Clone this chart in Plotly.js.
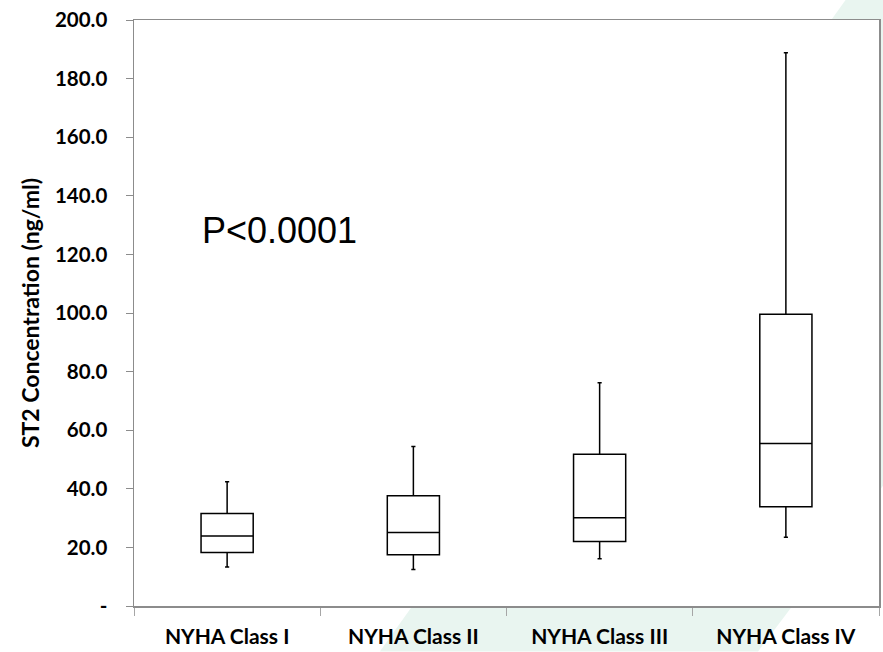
<!DOCTYPE html>
<html>
<head>
<meta charset="utf-8">
<script src="https://cdn.plot.ly/plotly-3.0.1.min.js"></script>
<style>html,body{margin:0;padding:0;background:#fff;}#chart{width:883px;height:652px;}</style>
</head>
<body>
<div id="chart"></div>
<script>
var categories = ["NYHA Class I", "NYHA Class II", "NYHA Class III", "NYHA Class IV"];
var lowerWhisker = [13.3, 12.5, 16.1, 23.5];
var q1Values = [18.3, 17.5, 22.0, 33.9];
var medianValues = [23.9, 25.1, 30.1, 55.5];
var q3Values = [31.6, 37.6, 51.8, 99.6];
var upperWhisker = [42.4, 54.4, 76.2, 188.8];
var yTickVals = [0, 20, 40, 60, 80, 100, 120, 140, 160, 180, 200];
var yTickText = ["-", "20.0", "40.0", "60.0", "80.0", "100.0", "120.0", "140.0", "160.0", "180.0", "200.0"];

var trace = {
  type: "box",
  x: categories,
  q1: q1Values,
  median: medianValues,
  q3: q3Values,
  lowerfence: lowerWhisker,
  upperfence: upperWhisker,
  boxpoints: false,
  fillcolor: "rgba(255,255,255,1)",
  line: {color: "#000000", width: 1.5},
  whiskerwidth: 0.08,
  hoverinfo: "skip",
  showlegend: false
};

var layout = {
  width: 883,
  height: 652,
  margin: {l: 134, r: 4, t: 20, b: 46},
  paper_bgcolor: "#ffffff",
  plot_bgcolor: "rgba(0,0,0,0)",
  boxgap: 0.6,
  font: {family: "Lato, 'Open Sans', sans-serif", color: "#000000"},
  xaxis: {
    type: "category",
    tickson: "boundaries",
    ticks: "outside",
    ticklen: 8,
    tickcolor: "#a6a6a6",
    showline: true,
    linecolor: "#8c8c8c",
    linewidth: 1.5,
    mirror: true,
    showgrid: false,
    zeroline: false,
    tickfont: {family: "Lato, sans-serif", size: 21, color: "#000000", weight: "bold"},
    ticklabelstandoff: 11
  },
  yaxis: {
    range: [0, 200],
    tickvals: yTickVals,
    ticktext: yTickText,
    ticks: "outside",
    ticklen: 7,
    tickcolor: "#8c8c8c",
    showline: true,
    linecolor: "#8c8c8c",
    linewidth: 1.5,
    mirror: true,
    showgrid: false,
    zeroline: false,
    tickfont: {family: "Lato, sans-serif", size: 20.5, color: "#000000", weight: "bold"},
    ticklabelstandoff: 14,
    title: {
      text: "ST2 Concentration (ng/ml)",
      font: {family: "Lato, sans-serif", size: 23, color: "#000000", weight: "bold"},
      standoff: 9
    }
  },
  shapes: [
    {
      type: "path",
      xref: "paper", yref: "paper",
      path: "M 0.9557 1.0352 L 1.498 1.0352 L 0.8376 -0.0775 L 0.330 -0.0775 Z",
      fillcolor: "#e9f5f0",
      line: {width: 0},
      layer: "below"
    },
    {
      type: "rect",
      xref: "paper", yref: "paper",
      x0: 0, x1: 1, y0: 0, y1: 1,
      fillcolor: "#ffffff",
      line: {width: 0},
      layer: "below"
    }
  ],
  annotations: [
    {
      xref: "paper", yref: "y",
      x: 0.088, y: 128.2,
      xanchor: "left", yanchor: "middle",
      text: "P<0.0001",
      showarrow: false,
      font: {family: "'Liberation Sans', Arial, sans-serif", size: 36, color: "#000000"}
    }
  ]
};

Plotly.newPlot("chart", [trace], layout, {displayModeBar: false, staticPlot: true});
</script>
</body>
</html>
